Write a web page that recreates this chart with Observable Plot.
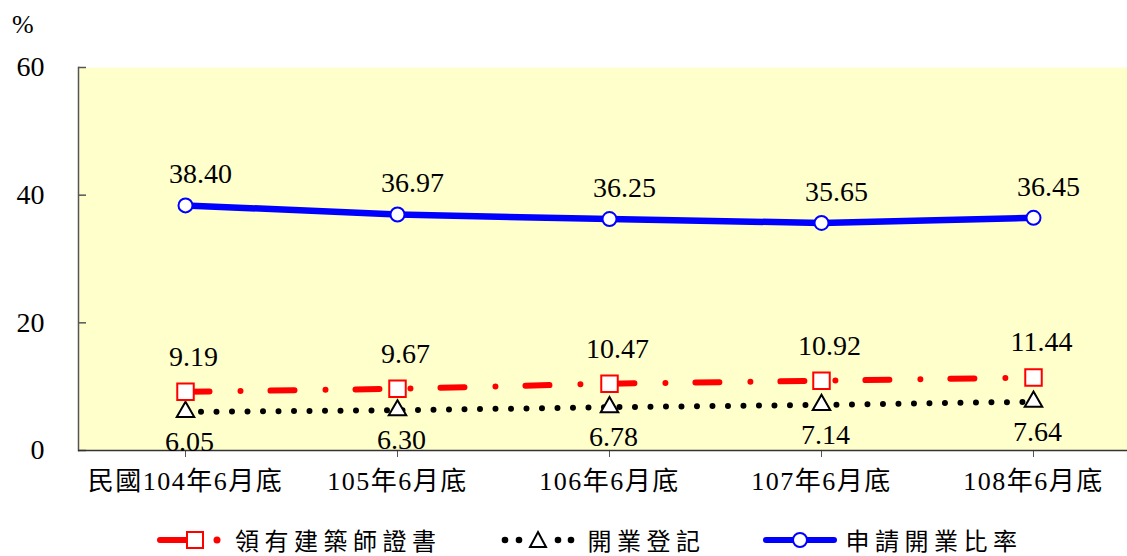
<!DOCTYPE html>
<html>
<head>
<meta charset="utf-8">
<script src="https://cdn.jsdelivr.net/npm/d3@7"></script>
<script src="https://cdn.jsdelivr.net/npm/@observablehq/plot@0.6"></script>
<style>
  html, body { margin: 0; padding: 0; background: #fff; }
  body { width: 1127px; height: 556px; overflow: hidden; position: relative;
         font-family: "Liberation Serif", "Times New Roman", "DejaVu Serif", serif; }
  #unit { position: absolute; left: 12px; top: 12px; font-size: 26px; line-height: 1; color: #000;
          font-family: "Liberation Serif", "Times New Roman", serif; }
  #chart svg { display: block; }
  #chart svg text { font-family: "Liberation Serif", "Times New Roman", "Noto Sans CJK TC", serif !important; }
  #chart [aria-label="x-axis tick label"] text { letter-spacing: 1.5px; }
  #legend { position: absolute; left: 157px; top: 527px; height: 26px; line-height: 26px; display: flex; align-items: center;
            font-family: "Noto Sans CJK TC", sans-serif; font-size: 24px; letter-spacing: 5.5px; color: #000; }
  .item { display: flex; align-items: center; height: 26px; }
  .item svg { margin-right: 8px; display: block; }
  .item span { display: block; line-height: 26px; height: 26px; }
</style>
</head>
<body>
<div id="unit">%</div>
<div id="chart"></div>
<div id="legend"></div>
<script>
const categories = ["民國104年6月底", "105年6月底", "106年6月底", "107年6月底", "108年6月底"];
const architectCert = [9.19, 9.67, 10.47, 10.92, 11.44];
const businessReg = [6.05, 6.30, 6.78, 7.14, 7.64];
const applyRatio = [38.40, 36.97, 36.25, 35.65, 36.45];
const yTicks = [0, 20, 40, 60];
const seriesNames = ["領有建築師證書", "開業登記", "申請開業比率"];

const rows = (vals) => categories.map((c, i) => ({cat: c, v: vals[i]}));
const red = rows(architectCert), blk = rows(businessReg), blu = rows(applyRatio);
const fmt = d => d.v.toFixed(2);
const serif = '"Liberation Serif", "Times New Roman", serif';

const chart = Plot.plot({
  width: 1127,
  height: 520,
  marginLeft: 78,
  marginRight: 0,
  marginTop: 67,
  marginBottom: 70,
  style: {color: "#000", background: "transparent"},
  x: {type: "point", domain: categories, padding: 0.468, align: 0.533, label: null},
  y: {domain: [0, 60], label: null},
  marks: [
    Plot.frame({fill: "#ffffcc", stroke: "none"}),
    Plot.frame({anchor: "left", stroke: "#555", strokeWidth: 1.5}),
    Plot.axisY({ticks: yTicks, tickSize: 0, tickPadding: 34, fontSize: 28, label: null}),
    Plot.axisY({ticks: yTicks, tickSize: -8, fill: "none", stroke: "#555", strokeWidth: 1.5, label: null}),
    Plot.axisX({tickSize: 7, tickPadding: 14, fontSize: 26, stroke: "#555", label: null}),
    Plot.ruleY([0], {stroke: "#333", strokeWidth: 1.5}),
    // 開業登記
    Plot.line(blk, {x: "cat", y: "v", stroke: "#000", strokeWidth: 6, strokeDasharray: "0 15.5", strokeLinecap: "round"}),
    Plot.dot(blk, {x: "cat", y: "v", symbol: "triangle", r: 6.5, fill: "#fff", stroke: "#000", strokeWidth: 2}),
    Plot.text(blk, {x: "cat", y: "v", text: fmt, dy: 30, dx: 4, fontSize: 28, fontFamily: serif}),
    // 領有建築師證書
    Plot.line(red, {x: "cat", y: "v", stroke: "#ff0000", strokeWidth: 6, strokeDasharray: "24 31 0 30", strokeLinecap: "round"}),
    Plot.dot(red, {x: "cat", y: "v", symbol: "square", r: 9.3, fill: "#fff", stroke: "#ff0000", strokeWidth: 2}),
    Plot.text(red, {x: "cat", y: "v", text: fmt, dy: -35, dx: 8, fontSize: 28, fontFamily: serif}),
    // 申請開業比率
    Plot.line(blu, {x: "cat", y: "v", stroke: "#0000ff", strokeWidth: 6.5}),
    Plot.dot(blu, {x: "cat", y: "v", r: 7, fill: "#fff", stroke: "#0000ff", strokeWidth: 2}),
    Plot.text(blu, {x: "cat", y: "v", text: fmt, dy: -31, dx: 15, fontSize: 28, fontFamily: serif})
  ]
});
document.getElementById("chart").appendChild(chart);

// Legend
const samples = [
  `<svg width="70" height="24"><line x1="3" y1="12" x2="30" y2="12" stroke="#ff0000" stroke-width="6" stroke-linecap="round"/><rect x="30" y="4" width="16" height="16" fill="#fff" stroke="#ff0000" stroke-width="2"/><circle cx="60" cy="12" r="3.5" fill="#ff0000"/></svg>`,
  `<svg width="80" height="24"><circle cx="5" cy="12" r="3.3" fill="#000"/><circle cx="19" cy="12" r="3.3" fill="#000"/><path d="M38,4 L46,19 L30,19 Z" fill="#fff" stroke="#000" stroke-width="2"/><circle cx="58" cy="12" r="3.3" fill="#000"/><circle cx="71" cy="12" r="3.3" fill="#000"/></svg>`,
  `<svg width="76" height="24"><line x1="4" y1="12" x2="72" y2="12" stroke="#0000ff" stroke-width="6" stroke-linecap="round"/><circle cx="38" cy="12" r="7" fill="#fff" stroke="#0000ff" stroke-width="2"/></svg>`
];
const gaps = [0, 58, 56];
const legend = document.getElementById("legend");
seriesNames.forEach((name, i) => {
  const el = document.createElement("div");
  el.className = "item";
  el.style.marginLeft = gaps[i] + "px";
  el.innerHTML = samples[i] + `<span>${name}</span>`;
  legend.appendChild(el);
});
</script>
</body>
</html>
